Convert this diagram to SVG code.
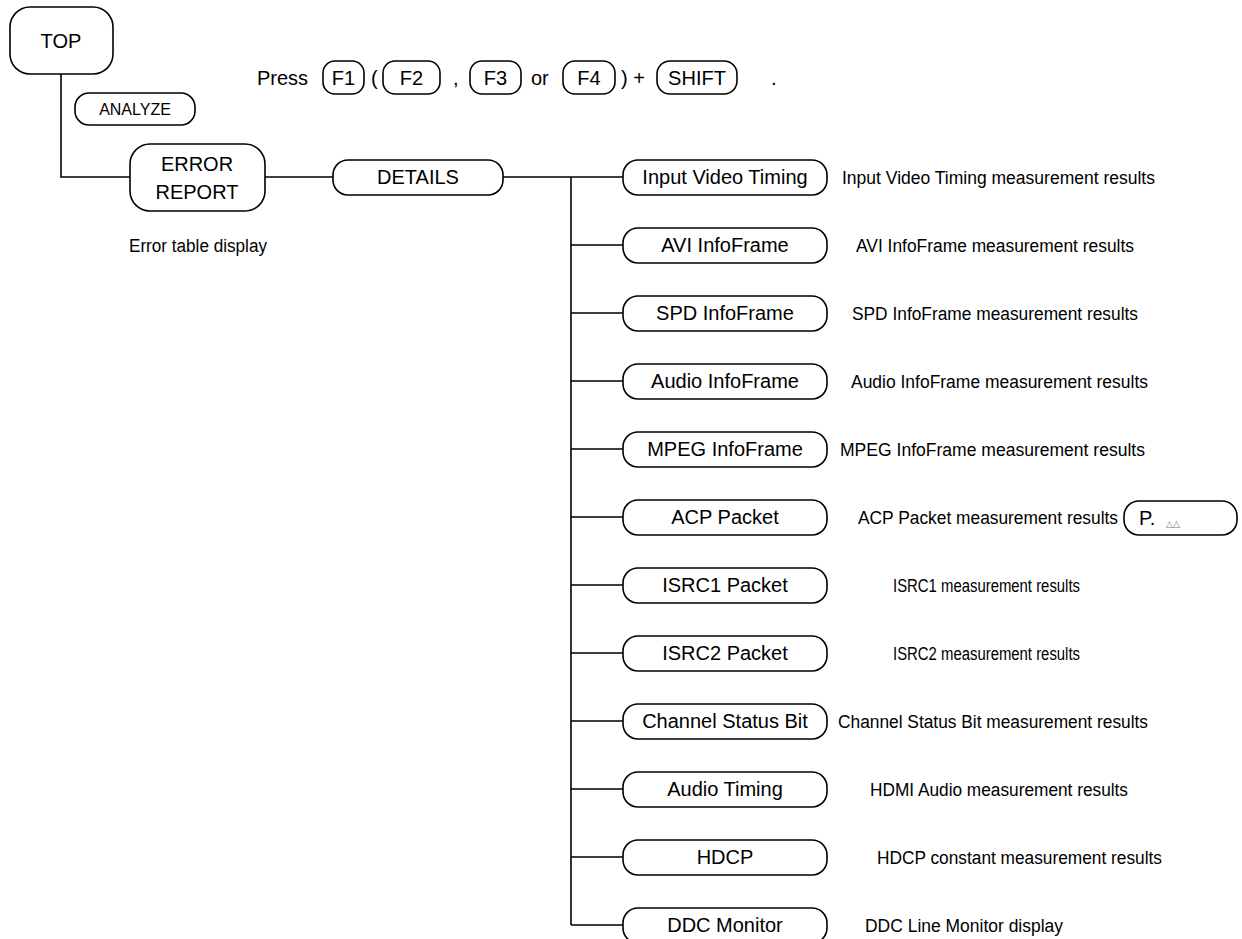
<svg xmlns="http://www.w3.org/2000/svg" width="1242" height="939" viewBox="0 0 1242 939">
<style>
.b{fill:#fff;stroke:#000;stroke-width:1.6}
.l{font-family:"Liberation Sans",Arial,sans-serif;font-size:20px;fill:#000;text-anchor:middle}
.t{font-family:"Liberation Sans",Arial,sans-serif;font-size:20px;fill:#000}
.s{font-family:"Liberation Sans",Arial,sans-serif;font-size:16px;fill:#000;text-anchor:middle}
.d{font-family:"Liberation Sans Narrow","Liberation Sans",Arial,sans-serif;font-size:18px;fill:#000}
.c{fill:none;stroke:#000;stroke-width:1.6}
</style>
<rect width="1242" height="939" fill="#fff"/>
<g id="connectors" class="c">
<path d="M61,74V177H130"/>
<path d="M265,177H333"/>
<path d="M503,177H623"/>
<path d="M571,177V925"/>
<path d="M571,245H623M571,313H623M571,381H623M571,449H623M571,517H623M571,585H623M571,653H623M571,721H623M571,789H623M571,857H623M571,925H623"/>
</g>
<g id="instruction">
<text class="t" x="257" y="85">Press</text>
<rect class="b" x="323" y="61" width="41" height="33" rx="12"/>
<text class="l" x="343.5" y="85">F1</text>
<text class="t" x="371" y="85">(</text>
<rect class="b" x="383" y="61" width="57" height="33" rx="12"/>
<text class="l" x="411.5" y="85">F2</text>
<text class="t" x="453" y="85">,</text>
<rect class="b" x="470" y="61" width="51" height="33" rx="12"/>
<text class="l" x="495.5" y="85">F3</text>
<text class="t" x="531" y="85">or</text>
<rect class="b" x="563" y="61" width="52" height="33" rx="12"/>
<text class="l" x="589" y="85">F4</text>
<text class="t" x="621" y="85">) +</text>
<rect class="b" x="657" y="61" width="80" height="33" rx="13"/>
<text class="l" x="697" y="85">SHIFT</text>
<text class="t" x="771" y="85">.</text>
</g>
<g id="top"><rect class="b" x="10" y="7" width="103" height="67" rx="20"/><text class="l" x="61" y="48">TOP</text></g>
<g id="analyze"><rect class="b" x="75" y="93" width="120" height="32" rx="14"/><text class="s" x="135" y="115">ANALYZE</text></g>
<g id="error-report"><rect class="b" x="130" y="144" width="135" height="67" rx="20"/><text class="l" x="197" y="171">ERROR</text><text class="l" x="197" y="199">REPORT</text>
<text class="d" x="129" y="252" textLength="138" lengthAdjust="spacingAndGlyphs">Error table display</text></g>
<g id="details"><rect class="b" x="333" y="160" width="170" height="35" rx="15"/><text class="l" x="418" y="184">DETAILS</text></g>
<g id="n1"><rect class="b" x="623" y="160" width="204" height="35" rx="15"/><text class="l" x="725" y="184">Input Video Timing</text><text class="d" x="842" y="184" textLength="313" lengthAdjust="spacingAndGlyphs">Input Video Timing measurement results</text></g>
<g id="n2"><rect class="b" x="623" y="228" width="204" height="35" rx="15"/><text class="l" x="725" y="252">AVI InfoFrame</text><text class="d" x="856" y="252" textLength="278" lengthAdjust="spacingAndGlyphs">AVI InfoFrame measurement results</text></g>
<g id="n3"><rect class="b" x="623" y="296" width="204" height="35" rx="15"/><text class="l" x="725" y="320">SPD InfoFrame</text><text class="d" x="852" y="320" textLength="286" lengthAdjust="spacingAndGlyphs">SPD InfoFrame measurement results</text></g>
<g id="n4"><rect class="b" x="623" y="364" width="204" height="35" rx="15"/><text class="l" x="725" y="388">Audio InfoFrame</text><text class="d" x="851" y="388" textLength="297" lengthAdjust="spacingAndGlyphs">Audio InfoFrame measurement results</text></g>
<g id="n5"><rect class="b" x="623" y="432" width="204" height="35" rx="15"/><text class="l" x="725" y="456">MPEG InfoFrame</text><text class="d" x="840" y="456" textLength="305" lengthAdjust="spacingAndGlyphs">MPEG InfoFrame measurement results</text></g>
<g id="n6"><rect class="b" x="623" y="500" width="204" height="35" rx="15"/><text class="l" x="725" y="524">ACP Packet</text><text class="d" x="858" y="524" textLength="260" lengthAdjust="spacingAndGlyphs">ACP Packet measurement results</text>
<rect class="b" x="1124" y="501" width="113" height="34" rx="15"/><text class="t" x="1139" y="525">P.</text><text x="1166" y="527" style="font-family:'DejaVu Sans',sans-serif;font-size:9px;fill:#777">△△</text></g>
<g id="n7"><rect class="b" x="623" y="568" width="204" height="35" rx="15"/><text class="l" x="725" y="592">ISRC1 Packet</text><text class="d" x="893" y="592" textLength="187" lengthAdjust="spacingAndGlyphs">ISRC1 measurement results</text></g>
<g id="n8"><rect class="b" x="623" y="636" width="204" height="35" rx="15"/><text class="l" x="725" y="660">ISRC2 Packet</text><text class="d" x="893" y="660" textLength="187" lengthAdjust="spacingAndGlyphs">ISRC2 measurement results</text></g>
<g id="n9"><rect class="b" x="623" y="704" width="204" height="35" rx="15"/><text class="l" x="725" y="728">Channel Status Bit</text><text class="d" x="838" y="728" textLength="310" lengthAdjust="spacingAndGlyphs">Channel Status Bit measurement results</text></g>
<g id="n10"><rect class="b" x="623" y="772" width="204" height="35" rx="15"/><text class="l" x="725" y="796">Audio Timing</text><text class="d" x="870" y="796" textLength="258" lengthAdjust="spacingAndGlyphs">HDMI Audio measurement results</text></g>
<g id="n11"><rect class="b" x="623" y="840" width="204" height="35" rx="15"/><text class="l" x="725" y="864">HDCP</text><text class="d" x="877" y="864" textLength="285" lengthAdjust="spacingAndGlyphs">HDCP constant measurement results</text></g>
<g id="n12"><rect class="b" x="623" y="908" width="204" height="35" rx="15"/><text class="l" x="725" y="932">DDC Monitor</text><text class="d" x="865" y="932" textLength="198" lengthAdjust="spacingAndGlyphs">DDC Line Monitor display</text></g>
</svg>
